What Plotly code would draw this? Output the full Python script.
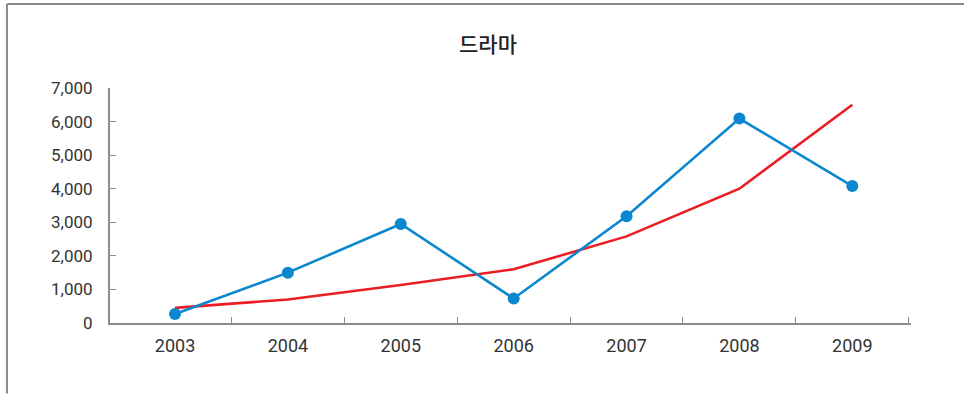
import plotly.graph_objects as go

# Yearly figures for the drama category
years = ["2003", "2004", "2005", "2006", "2007", "2008", "2009"]
actual = [270, 1500, 2950, 730, 3180, 6090, 4080]
trend = [450, 700, 1130, 1600, 2580, 4000, 6500]
y_ticks = [0, 1000, 2000, 3000, 4000, 5000, 6000, 7000]

idx = list(range(len(years)))
blue = "#0a87cf"
red = "#ec1c24"
axis_grey = "#8c8c8c"
text_col = "#333333"
x_range = [-0.576, 6.52]

W, H = 964, 394
L, R, T, B = 110, 53.3, 87.7, 70.7
plot_w = W - L - R
plot_h = H - T - B

fig = go.Figure()
fig.add_trace(go.Scatter(
    x=idx, y=trend, mode="lines",
    line=dict(color=red, width=2.6),
    hoverinfo="skip", showlegend=False,
))
fig.add_trace(go.Scatter(
    x=idx, y=actual, mode="lines+markers",
    line=dict(color=blue, width=2.6),
    marker=dict(color=blue, size=12),
    showlegend=False,
))
# empty companion trace so the label axis is drawn
fig.add_trace(go.Scatter(
    x=idx, y=[None] * len(idx), xaxis="x2", mode="lines",
    hoverinfo="skip", showlegend=False,
))

fig.update_layout(
    width=W, height=H,
    margin=dict(l=L, r=R, t=T, b=B, pad=0, autoexpand=False),
    paper_bgcolor="white", plot_bgcolor="white",
    font=dict(family="Roboto, 'Noto Sans CJK KR', sans-serif", color=text_col),
    title=dict(
        text="드라마",
        x=488 / W, xanchor="center", xref="container",
        y=1 - 45 / H, yanchor="middle", yref="container",
        font=dict(family="'Noto Sans CJK KR', sans-serif", size=21,
                  color="#222222", weight=500),
    ),
    xaxis=dict(
        range=x_range,
        tickmode="array",
        tickvals=[i + 0.5 for i in idx],
        showticklabels=False,
        ticks="inside", ticklen=6, tickwidth=1.2, tickcolor=axis_grey,
        showline=True, linecolor=axis_grey, linewidth=2,
        showgrid=False, zeroline=False, fixedrange=True,
    ),
    xaxis2=dict(
        overlaying="x", anchor="y", side="bottom",
        range=x_range,
        tickmode="array", tickvals=idx, ticktext=years,
        ticks="", showline=False, showgrid=False, zeroline=False,
        tickfont=dict(size=18, color=text_col),
        ticklabelstandoff=10,
    ),
    yaxis=dict(
        range=[0, 7000],
        tickmode="array", tickvals=y_ticks,
        tickformat=",d",
        ticks="inside", ticklen=6, tickwidth=1.2, tickcolor=axis_grey,
        showline=True, linecolor=axis_grey, linewidth=2,
        showgrid=False, zeroline=False,
        tickfont=dict(size=17, color=text_col),
        ticklabelstandoff=12,
    ),
)

# Frame lines along the top and left edge of the page
fx = (7 - L) / plot_w
fy_top = (H - B - 3.5) / plot_h
fy_bot = -B / plot_h
fig.add_shape(type="line", xref="paper", yref="paper",
              x0=fx, x1=(W - L) / plot_w, y0=fy_top, y1=fy_top,
              line=dict(color="#8a8a8a", width=2))
fig.add_shape(type="line", xref="paper", yref="paper",
              x0=fx, x1=fx, y0=fy_bot, y1=fy_top,
              line=dict(color="#8a8a8a", width=2))

fig.write_html("out.html")
